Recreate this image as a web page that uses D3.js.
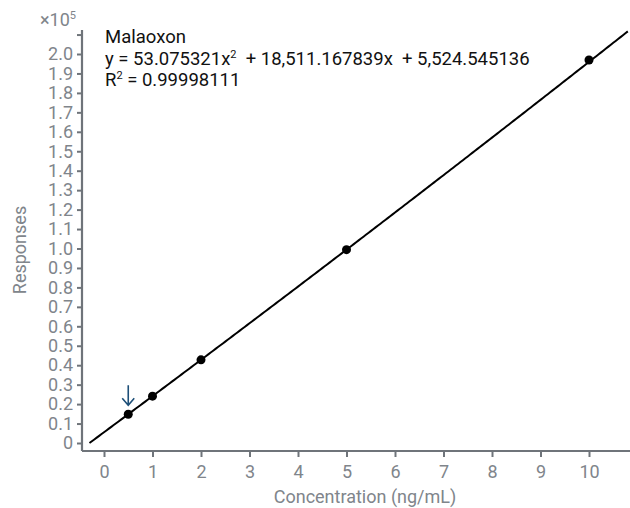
<!DOCTYPE html>
<html>
<head>
<meta charset="utf-8">
<script src="https://cdn.jsdelivr.net/npm/d3@7"></script>
<style>
  html, body { margin: 0; padding: 0; background: #fff; }
  svg { display: block; font-family: Roboto, "Noto Sans", sans-serif; }
</style>
</head>
<body>
<svg id="chart" width="630" height="508"></svg>
<script>
// Calibration standards (ng/mL) and measured responses
const concentrations = [0.5, 1, 2, 5, 10];
const responses = [14793, 24089, 42759, 99408, 196944];

// Quadratic fit coefficients
const coefA = 53.075321;
const coefB = 18511.167839;
const coefC = 5524.545136;

const xTicks = [0, 1, 2, 3, 4, 5, 6, 7, 8, 9, 10];
const yTicks = [0, 0.1, 0.2, 0.3, 0.4, 0.5, 0.6, 0.7, 0.8, 0.9, 1.0, 1.1, 1.2, 1.3, 1.4, 1.5, 1.6, 1.7, 1.8, 1.9, 2.0, 2.1];
const yTickLabels = ["0", "0.1", "0.2", "0.3", "0.4", "0.5", "0.6", "0.7", "0.8", "0.9", "1.0", "1.1", "1.2", "1.3", "1.4", "1.5", "1.6", "1.7", "1.8", "1.9", "2.0", ""];

const fitStart = -0.3;
const highlighted = 0.5;

const svg = d3.select("#chart");
const axisColor = "#6f747a";
const labelColor = "#80858b";
const fontSize = "18px";

// Scales
const x = d3.scaleLinear().domain([0, 10]).range([104, 589]);
const y = d3.scaleLinear().domain([0, 2.0]).range([443, 54]);
const xMin = x.invert(82), xMax = x.invert(630);
const yMin = y.invert(451), yMax = y.invert(30);

// Axes
const xAxis = svg.append("g")
  .attr("transform", `translate(0,${y(yMin)})`)
  .call(d3.axisBottom(x).tickValues(xTicks).tickSize(6).tickSizeOuter(0).tickPadding(8).tickFormat(d3.format("d")));
xAxis.select(".domain").attr("d", `M${x(xMin)},0H${x(xMax)}`);

const yAxis = svg.append("g")
  .attr("transform", `translate(${x(xMin)},0)`)
  .call(d3.axisLeft(y).tickValues(yTicks).tickSize(5).tickSizeOuter(0).tickPadding(4)
    .tickFormat((d, i) => yTickLabels[i]));
yAxis.select(".domain").attr("d", `M0,${y(yMax)}V${y(yMin)}`);

[xAxis, yAxis].forEach(g => {
  g.select(".domain").attr("stroke", axisColor).attr("stroke-width", 2.2);
  g.selectAll(".tick line").attr("stroke", axisColor).attr("stroke-width", 2);
  g.selectAll(".tick text").attr("fill", labelColor).style("font-size", fontSize)
    .style("font-family", "Roboto, sans-serif");
});

// Exponent marker above the y axis
const expo = svg.append("text").attr("x", 76).attr("y", 26).attr("text-anchor", "end")
  .attr("fill", labelColor).style("font-size", "18px");
expo.append("tspan").text("×10");
expo.append("tspan").attr("dy", -7).style("font-size", "11px").text("5");

// Axis titles
svg.append("text")
  .attr("transform", "translate(26,250) rotate(-90)")
  .attr("text-anchor", "middle").attr("fill", labelColor).style("font-size", fontSize)
  .text("Responses");
svg.append("text")
  .attr("x", 365).attr("y", 503).attr("text-anchor", "middle")
  .attr("fill", labelColor).style("font-size", fontSize)
  .text("Concentration (ng/mL)");

// Fitted curve (responses in units of 1e5)
const fit = c => (coefA * c * c + coefB * c + coefC) / 1e5;
const curveX = d3.range(fitStart, xMax + 0.001, 0.05);
svg.append("path")
  .datum(curveX)
  .attr("fill", "none").attr("stroke", "#000").attr("stroke-width", 2)
  .attr("d", d3.line().x(d => x(d)).y(d => y(fit(d))));

// Calibration points
svg.append("g").selectAll("circle")
  .data(concentrations.map((c, i) => ({ c, r: responses[i] })))
  .join("circle")
  .attr("cx", d => x(d.c)).attr("cy", d => y(d.r / 1e5))
  .attr("r", 4.5).attr("fill", "#000");

// Arrow marking the lowest standard
const ax = x(highlighted);
const ay = y(responses[concentrations.indexOf(highlighted)] / 1e5) - 9;
svg.append("path")
  .attr("d", `M${ax},${ay - 20}V${ay} M${ax - 6},${ay - 7}L${ax},${ay}L${ax + 6},${ay - 7}`)
  .attr("fill", "none").attr("stroke", "#1d4f78").attr("stroke-width", 1.6);

// Equation annotation
const ann = svg.append("g").attr("fill", "#111").style("font-size", "18.5px");
ann.append("text").attr("x", 105).attr("y", 43).text("Malaoxon");
const eq = ann.append("text").attr("x", 105).attr("y", 65).style("white-space", "pre");
eq.append("tspan").text("y = 53.075321x");
eq.append("tspan").attr("dy", -7).style("font-size", "11px").text("2");
eq.append("tspan").attr("dy", 7).text("  + 18,511.167839x  + 5,524.545136");
const r2 = ann.append("text").attr("x", 105).attr("y", 86);
r2.append("tspan").text("R");
r2.append("tspan").attr("dy", -7).style("font-size", "11px").text("2");
r2.append("tspan").attr("dy", 7).text(" = 0.99998111");
</script>
</body>
</html>
